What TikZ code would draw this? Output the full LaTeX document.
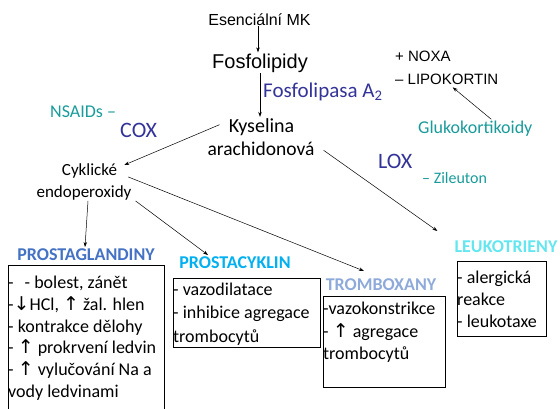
\documentclass[tikz,border=0pt]{standalone}
\usepackage{fontspec}
\setmainfont{Carlito}
\newfontfamily\arialf{Liberation Sans}
\newfontfamily\dejaf{DejaVu Sans}
\usetikzlibrary{arrows.meta}
\definecolor{cpurple}{RGB}{51,51,153}
\definecolor{cteal}{RGB}{25,155,155}
\definecolor{cpg}{RGB}{68,114,196}
\definecolor{cpc}{RGB}{0,176,240}
\definecolor{ctx}{RGB}{142,170,219}
\definecolor{clt}{RGB}{100,230,240}
\newcommand{\fsz}[1]{\fontsize{#1}{#1}\selectfont}
\newcommand{\arrup}{{\dejaf\fsz{19}↑}}
\newcommand{\arrdown}{{\dejaf\fsz{19}↓}}
\begin{document}
\begin{tikzpicture}[x=1pt,y=-1pt,
  txt/.style={inner sep=1pt, anchor=base},
  ltxt/.style={inner sep=1pt, anchor=base west},
  body/.style={inner sep=0pt, anchor=base west, font=\fsz{18}},
  hdr/.style={inner sep=1pt, anchor=base, font=\bfseries\fsz{18}},
  boxx/.style={draw, line width=0.8pt, anchor=north west, inner sep=0pt},
  arr/.style={-{Stealth[length=5pt,width=3.5pt]}, line width=0.5pt}]
\useasboundingbox (0,0) rectangle (560,408);

% top texts
\node[txt, font=\arialf\fsz{16}] (esm) at (259.5,25) {Esenciální MK};
\node[txt, font=\arialf\fsz{20}] (fos) at (260,68) {Fosfolipidy};
\node[ltxt, font=\fsz{21}, text=cpurple] (pla) at (262,97) {Fosfolipasa A\textsubscript{2}};
\node[ltxt, font=\arialf\fsz{15}] (noxa) at (394,61) {+ NOXA};
\node[ltxt, font=\arialf\fsz{15}] (lipo) at (394,84) {– LIPOKORTIN};
\node[ltxt, font=\fsz{18}, text=cteal] (gluk) at (417,133) {Glukokortikoidy};
\node[ltxt, font=\fsz{18}, text=cteal] (nsaid) at (49,117) {NSAIDs –};
\node[ltxt, font=\fsz{22}, text=cpurple] (cox) at (119,137) {COX};
\node[txt, font=\fsz{20}] (kys1) at (261.5,132) {Kyselina};
\node[txt, font=\fsz{19.5}] (kys2) at (261,155) {arachidonová};
\node[txt, font=\fsz{17}] (cyk1) at (89.5,175) {Cyklické};
\node[txt, font=\fsz{17}] (cyk2) at (84,197) {endoperoxidy};
\node[ltxt, font=\fsz{22}, text=cpurple] (lox) at (377,168) {LOX};
\node[ltxt, font=\fsz{16}, text=cteal] (zil) at (421,183) {– Zileuton};

% headers
\node[hdr, text=cpg] (pgh) at (86,260) {PROSTAGLANDINY};
\node[hdr, text=cpc] (pch) at (235,268) {PROSTACYKLIN};
\node[hdr, text=ctx] (txh) at (381,290) {TROMBOXANY};
\node[hdr, text=clt] (lth) at (506,252) {LEUKOTRIENY};

% boxes
\node[boxx, minimum width=156pt, minimum height=160pt] (pgbox) at (8,265) {};
\node[boxx, minimum width=147pt, minimum height=69pt] (pcbox) at (173,278) {};
\node[boxx, minimum width=122pt, minimum height=91pt] (txbox) at (323,296) {};
\node[boxx, minimum width=89pt, minimum height=75pt] (ltbox) at (457,261) {};

% box contents
\node[body] (pg1) at (8,288) {-\hspace{11pt}- bolest, zánět};
\node[body] (pg2) at (8,310) {-\arrdown HCl, \arrup\ žal. hlen};
\node[body] (pg3) at (8,332) {- kontrakce dělohy};
\node[body] (pg4) at (8,353) {- \arrup\ prokrvení ledvin};
\node[body] (pg5) at (8,375) {- \arrup\ vylučování Na a};
\node[body] (pg6) at (8,397) {vody ledvinami};

\node[body] (pc1) at (173,295) {- vazodilatace};
\node[body] (pc2) at (173,318) {- inhibice agregace};
\node[body] (pc3) at (173,342) {trombocytů};

\node[body] (tx1) at (323,314) {-vazokonstrikce};
\node[body] (tx2) at (323,337) {- \arrup\ agregace};
\node[body] (tx3) at (323,359) {trombocytů};

\node[body] (lt1) at (457,283) {- alergická};
\node[body] (lt2) at (457,305) {reakce};
\node[body] (lt3) at (457,327) {- leukotaxe};

% connectors
\draw[arr] ([xshift=-1.5pt]esm.south) -- ([xshift=-1.5pt]esm.south |- fos.north);
\draw[arr] (fos.south) -- (fos.south |- kys1.north);
\draw[arr] ([xshift=-8pt,yshift=2pt]kys1.west) -- ([xshift=6pt,yshift=-3pt]cyk1.north east);
\draw[arr] ([xshift=4pt]cyk2.south) -- ([xshift=-1pt]pgh.north);
\draw[arr] ([xshift=3pt]cyk2.south east) -- ([xshift=-27pt]pch.north);
\draw[arr] ([xshift=10pt,yshift=2pt]cyk1.south east) -- ([xshift=-17pt,yshift=6pt]txh.north);
\draw[arr] ([xshift=8pt,yshift=-2pt]kys2.east) -- ([xshift=-16pt,yshift=8pt]lth.north west);
\draw[arr] ([xshift=16pt]gluk.north) -- ([xshift=6pt,yshift=-2pt]lipo.south);
\end{tikzpicture}
\end{document}
